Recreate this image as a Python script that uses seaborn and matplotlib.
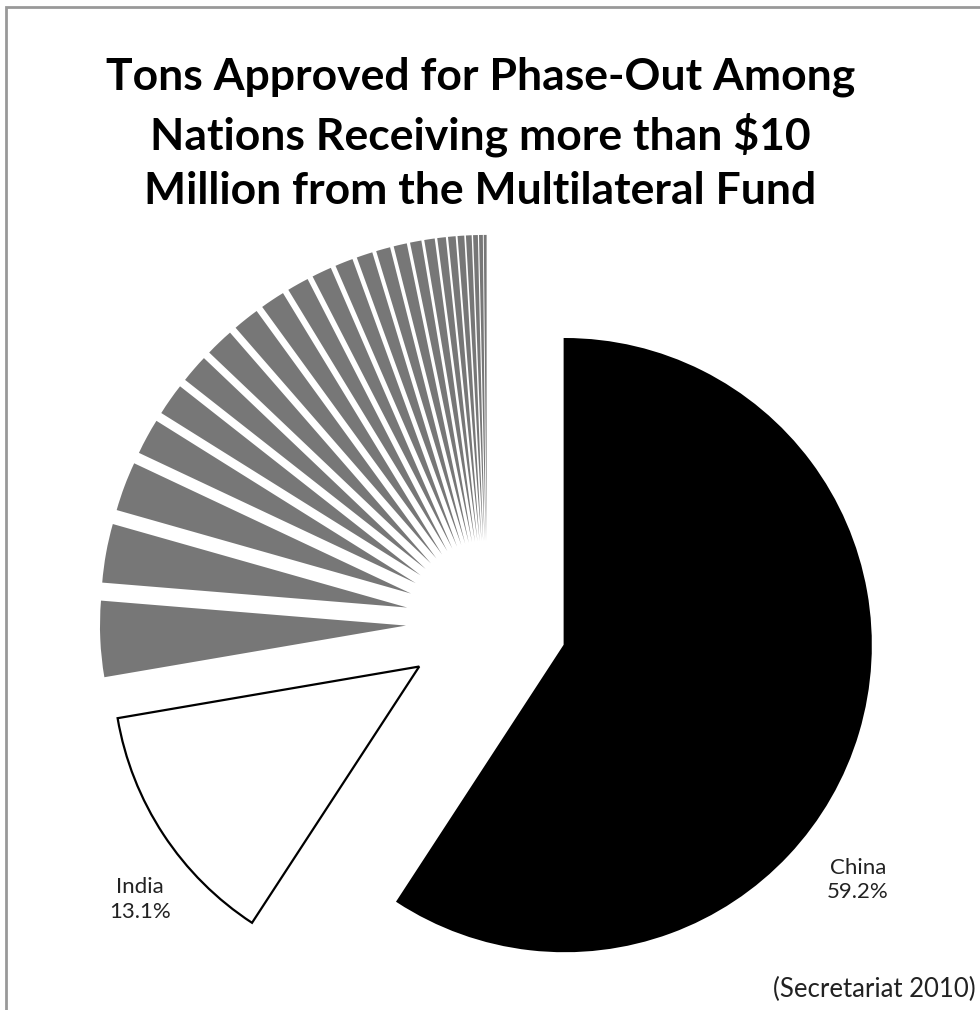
import matplotlib
matplotlib.use("Agg")
import matplotlib.pyplot as plt
import seaborn as sns
from matplotlib.patches import Rectangle

# share of tons approved for phase-out (%)
PAISES = ["China", "India"] + [f"Outros {i}" for i in range(1, 25)]
VALORES = [59.2, 13.1,
           4.0, 3.1, 2.6, 1.9, 1.7, 1.5, 1.5, 1.4, 1.3, 1.15, 1.05, 0.95,
           0.85, 0.75, 0.7, 0.6, 0.55, 0.45, 0.4, 0.35, 0.3, 0.25, 0.2, 0.15]
ROTULOS = {"China": "China\n59.2%", "India": "India\n13.1%"}

sns.set_theme(style="white")
plt.rcParams["font.family"] = ["Lato", "DejaVu Sans"]

cores = ["black", "white"] + ["#777777"] * (len(VALORES) - 2)
bordas = ["black", "black"] + ["none"] * (len(VALORES) - 2)

fig = plt.figure(figsize=(9.8, 10.1), dpi=100)
ax = fig.add_axes([0, 0, 1, 1])

fatias, _ = ax.pie(VALORES, colors=cores, startangle=90, counterclock=False,
                   explode=[0.265] * len(VALORES), radius=1,
                   wedgeprops={"linewidth": 0})
for w, b in zip(fatias, bordas):
    if b != "none":
        w.set_edgecolor(b)
        w.set_linewidth(1.6)

# eixo em pixels: centro do pie em (487, 622), raio 306 px
ax.set_aspect("auto")
ax.set_xlim(-487 / 306, (980 - 487) / 306)
ax.set_ylim((622 - 1010) / 306, 622 / 306)
ax.axis("off")

ax.text(1.212, -0.843, ROTULOS["China"], ha="center", va="center",
        fontsize=16, color="#222222", linespacing=1.3)
ax.text(-1.134, -0.908, ROTULOS["India"], ha="center", va="center",
        fontsize=16, color="#222222", linespacing=1.3)

fig.text(0.49, 0.868,
         "Tons Approved for Phase-Out Among\nNations Receiving more than $10\nMillion from the Multilateral Fund",
         ha="center", va="center", fontsize=32, fontweight="bold",
         color="black", linespacing=1.42)
fig.text(0.996, 0.02, "(Secretariat 2010)", ha="right", va="center",
         fontsize=18.5, color="#222222")

fig.patches.append(Rectangle((6 / 980, -0.1), 1.2, 1.1 - 7 / 1010,
                             transform=fig.transFigure, fill=False,
                             edgecolor="#999999", linewidth=2))

plt.savefig("out.png", dpi=100)
